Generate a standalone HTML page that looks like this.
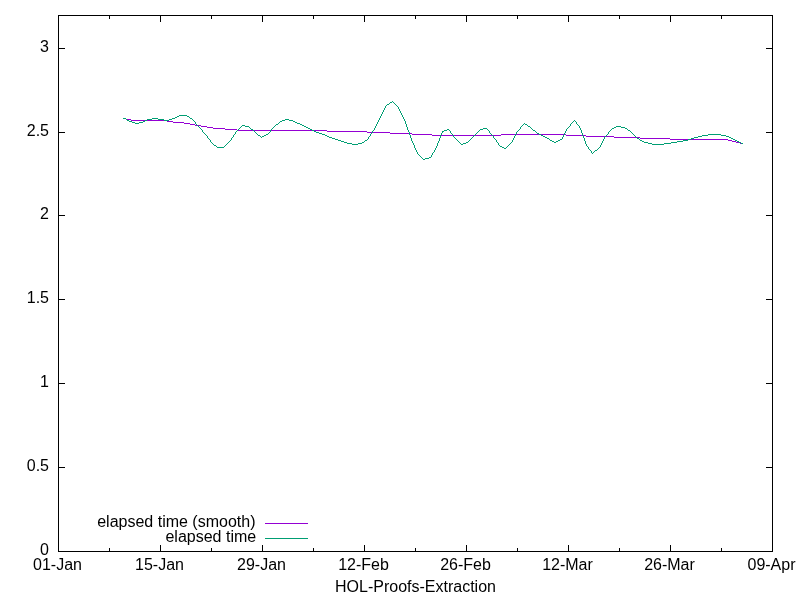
<!DOCTYPE html>
<html><head><meta charset="utf-8"><title>HOL-Proofs-Extraction</title>
<style>
html,body{margin:0;padding:0;background:#fff;}
body{width:800px;height:600px;overflow:hidden;}
svg{display:block;will-change:transform;}
text{font-family:"Liberation Sans",sans-serif;font-size:16px;fill:#000;}
.ax{stroke:#000;stroke-width:1;fill:none;shape-rendering:crispEdges;}
.c{fill:none;stroke-width:1;shape-rendering:crispEdges;}
</style></head><body>
<svg width="800" height="600" viewBox="0 0 800 600">
<rect width="800" height="600" fill="#fff"/>
<path class="ax" d="M58.5 552 V545 M58.5 15 V22 M160.5 552 V545 M160.5 15 V22 M262.5 552 V545 M262.5 15 V22 M364.5 552 V545 M364.5 15 V22 M466.5 552 V545 M466.5 15 V22 M568.5 552 V545 M568.5 15 V22 M670.5 552 V545 M670.5 15 V22 M772.5 552 V545 M772.5 15 V22 M109.5 552 V548 M109.5 15 V19 M211.5 552 V548 M211.5 15 V19 M313.5 552 V548 M313.5 15 V19 M415.5 552 V548 M415.5 15 V19 M517.5 552 V548 M517.5 15 V19 M619.5 552 V548 M619.5 15 V19 M721.5 552 V548 M721.5 15 V19 M58 551.5 H65 M773 551.5 H766 M58 467.5 H65 M773 467.5 H766 M58 383.5 H65 M773 383.5 H766 M58 299.5 H65 M773 299.5 H766 M58 215.5 H65 M773 215.5 H766 M58 132.5 H65 M773 132.5 H766 M58 48.5 H65 M773 48.5 H766"/>
<rect class="ax" x="58.5" y="15.5" width="714" height="536"/>
<text x="57.5" y="570" text-anchor="middle">01-Jan</text>
<text x="159.5" y="570" text-anchor="middle">15-Jan</text>
<text x="261.5" y="570" text-anchor="middle">29-Jan</text>
<text x="363.5" y="570" text-anchor="middle">12-Feb</text>
<text x="465.5" y="570" text-anchor="middle">26-Feb</text>
<text x="567.5" y="570" text-anchor="middle">12-Mar</text>
<text x="669.5" y="570" text-anchor="middle">26-Mar</text>
<text x="771.5" y="570" text-anchor="middle">09-Apr</text>
<text x="49" y="554.5" text-anchor="end">0</text>
<text x="49" y="470.5" text-anchor="end">0.5</text>
<text x="49" y="386.5" text-anchor="end">1</text>
<text x="49" y="302.5" text-anchor="end">1.5</text>
<text x="49" y="218.5" text-anchor="end">2</text>
<text x="49" y="135.5" text-anchor="end">2.5</text>
<text x="49" y="51.5" text-anchor="end">3</text>
<text x="415.5" y="592" text-anchor="middle">HOL-Proofs-Extraction</text>
<text x="255.5" y="527" text-anchor="end">elapsed time (smooth)</text>
<text x="256.2" y="542" text-anchor="end">elapsed time</text>
<path class="c" stroke="#9400d3" d="M265 523.5 H308"/>
<path class="c" stroke="#009e73" d="M265 538.5 H308"/>
<path fill="#9400d3" shape-rendering="crispEdges" d="M123 118h3v1h-3zM126 119h5v1h-5zM131 120h36v1h-36zM167 121h6v1h-6zM173 122h11v1h-11zM184 123h6v1h-6zM190 124h5v1h-5zM195 125h6v1h-6zM201 126h6v1h-6zM207 127h6v1h-6zM213 128h12v1h-12zM225 129h12v1h-12zM237 130h90v1h-90zM327 131h40v1h-40zM367 132h23v1h-23zM390 133h22v1h-22zM412 134h20v1h-20zM501 134h65v1h-65zM432 135h69v1h-69zM566 135h20v1h-20zM586 136h28v1h-28zM614 137h26v1h-26zM640 138h30v1h-30zM670 139h58v1h-58zM728 140h4v1h-4zM732 141h4v1h-4zM736 142h4v1h-4zM740 143h3v1h-3z"/>
<path fill="#009e73" shape-rendering="crispEdges" d="M392 101h1v1h-1zM390 102h2v1h-2zM393 102h1v1h-1zM389 103h1v1h-1zM394 103h1v1h-1zM387 104h2v1h-2zM395 104h1v1h-1zM386 105h1v1h-1zM396 105h1v1h-1zM385 106h1v1h-1zM397 106h1v1h-1zM385 107h1v1h-1zM398 107h1v1h-1zM384 108h1v1h-1zM398 108h1v1h-1zM384 109h1v1h-1zM399 109h1v1h-1zM383 110h1v1h-1zM399 110h1v1h-1zM383 111h1v1h-1zM400 111h1v1h-1zM382 112h1v1h-1zM400 112h1v1h-1zM382 113h1v1h-1zM401 113h1v1h-1zM381 114h1v1h-1zM401 114h1v1h-1zM179 115h8v1h-8zM381 115h1v1h-1zM402 115h1v1h-1zM177 116h2v1h-2zM187 116h2v1h-2zM380 116h1v1h-1zM402 116h1v1h-1zM175 117h2v1h-2zM189 117h1v1h-1zM380 117h1v1h-1zM403 117h1v1h-1zM123 118h3v1h-3zM152 118h6v1h-6zM172 118h3v1h-3zM190 118h2v1h-2zM379 118h1v1h-1zM403 118h1v1h-1zM126 119h1v1h-1zM147 119h5v1h-5zM158 119h6v1h-6zM169 119h3v1h-3zM192 119h1v1h-1zM285 119h4v1h-4zM379 119h1v1h-1zM404 119h1v1h-1zM127 120h2v1h-2zM145 120h2v1h-2zM164 120h5v1h-5zM193 120h1v1h-1zM282 120h3v1h-3zM289 120h4v1h-4zM378 120h1v1h-1zM404 120h1v1h-1zM574 120h1v1h-1zM129 121h3v1h-3zM143 121h2v1h-2zM194 121h1v1h-1zM280 121h2v1h-2zM293 121h2v1h-2zM378 121h1v1h-1zM405 121h1v1h-1zM573 121h1v1h-1zM575 121h1v1h-1zM132 122h3v1h-3zM139 122h4v1h-4zM195 122h1v1h-1zM279 122h1v1h-1zM295 122h2v1h-2zM377 122h1v1h-1zM405 122h1v1h-1zM572 122h1v1h-1zM576 122h1v1h-1zM135 123h4v1h-4zM195 123h1v1h-1zM278 123h1v1h-1zM297 123h3v1h-3zM377 123h1v1h-1zM405 123h1v1h-1zM524 123h1v1h-1zM571 123h1v1h-1zM576 123h1v1h-1zM196 124h1v1h-1zM276 124h2v1h-2zM300 124h2v1h-2zM376 124h1v1h-1zM406 124h1v1h-1zM523 124h1v1h-1zM525 124h2v1h-2zM570 124h1v1h-1zM577 124h1v1h-1zM197 125h1v1h-1zM242 125h3v1h-3zM275 125h1v1h-1zM302 125h2v1h-2zM376 125h1v1h-1zM406 125h1v1h-1zM522 125h1v1h-1zM527 125h1v1h-1zM570 125h1v1h-1zM578 125h1v1h-1zM198 126h1v1h-1zM241 126h1v1h-1zM245 126h4v1h-4zM274 126h1v1h-1zM304 126h2v1h-2zM375 126h1v1h-1zM406 126h1v1h-1zM521 126h1v1h-1zM528 126h2v1h-2zM569 126h1v1h-1zM579 126h1v1h-1zM616 126h5v1h-5zM199 127h1v1h-1zM240 127h1v1h-1zM249 127h1v1h-1zM273 127h1v1h-1zM306 127h2v1h-2zM375 127h1v1h-1zM407 127h1v1h-1zM520 127h1v1h-1zM530 127h1v1h-1zM568 127h1v1h-1zM579 127h1v1h-1zM614 127h2v1h-2zM621 127h4v1h-4zM200 128h1v1h-1zM239 128h1v1h-1zM250 128h1v1h-1zM272 128h1v1h-1zM308 128h2v1h-2zM374 128h1v1h-1zM407 128h1v1h-1zM483 128h4v1h-4zM520 128h1v1h-1zM531 128h1v1h-1zM567 128h1v1h-1zM580 128h1v1h-1zM612 128h2v1h-2zM625 128h2v1h-2zM201 129h1v1h-1zM238 129h1v1h-1zM251 129h2v1h-2zM271 129h1v1h-1zM310 129h2v1h-2zM374 129h1v1h-1zM407 129h1v1h-1zM447 129h2v1h-2zM480 129h3v1h-3zM487 129h1v1h-1zM519 129h1v1h-1zM532 129h1v1h-1zM566 129h1v1h-1zM580 129h1v1h-1zM611 129h1v1h-1zM627 129h1v1h-1zM202 130h1v1h-1zM237 130h1v1h-1zM253 130h1v1h-1zM270 130h1v1h-1zM312 130h2v1h-2zM373 130h1v1h-1zM408 130h1v1h-1zM444 130h3v1h-3zM449 130h1v1h-1zM479 130h1v1h-1zM488 130h1v1h-1zM518 130h1v1h-1zM533 130h2v1h-2zM566 130h1v1h-1zM581 130h1v1h-1zM610 130h1v1h-1zM628 130h2v1h-2zM202 131h1v1h-1zM236 131h1v1h-1zM254 131h1v1h-1zM270 131h1v1h-1zM314 131h2v1h-2zM372 131h1v1h-1zM408 131h1v1h-1zM442 131h2v1h-2zM450 131h1v1h-1zM478 131h1v1h-1zM489 131h1v1h-1zM517 131h1v1h-1zM535 131h1v1h-1zM565 131h1v1h-1zM581 131h1v1h-1zM609 131h1v1h-1zM630 131h1v1h-1zM203 132h1v1h-1zM235 132h1v1h-1zM255 132h1v1h-1zM269 132h1v1h-1zM316 132h3v1h-3zM372 132h1v1h-1zM409 132h1v1h-1zM442 132h1v1h-1zM450 132h1v1h-1zM477 132h1v1h-1zM489 132h1v1h-1zM516 132h1v1h-1zM536 132h1v1h-1zM565 132h1v1h-1zM581 132h1v1h-1zM608 132h1v1h-1zM631 132h1v1h-1zM204 133h1v1h-1zM235 133h1v1h-1zM256 133h1v1h-1zM268 133h1v1h-1zM319 133h3v1h-3zM371 133h1v1h-1zM409 133h1v1h-1zM441 133h1v1h-1zM451 133h1v1h-1zM476 133h1v1h-1zM490 133h1v1h-1zM516 133h1v1h-1zM537 133h2v1h-2zM564 133h1v1h-1zM582 133h1v1h-1zM608 133h1v1h-1zM632 133h1v1h-1zM205 134h1v1h-1zM234 134h1v1h-1zM257 134h1v1h-1zM266 134h2v1h-2zM322 134h3v1h-3zM370 134h1v1h-1zM409 134h1v1h-1zM441 134h1v1h-1zM452 134h1v1h-1zM475 134h1v1h-1zM491 134h1v1h-1zM515 134h1v1h-1zM539 134h2v1h-2zM564 134h1v1h-1zM582 134h1v1h-1zM607 134h1v1h-1zM633 134h1v1h-1zM708 134h13v1h-13zM206 135h1v1h-1zM233 135h1v1h-1zM258 135h2v1h-2zM264 135h2v1h-2zM325 135h2v1h-2zM370 135h1v1h-1zM410 135h1v1h-1zM440 135h1v1h-1zM453 135h1v1h-1zM474 135h1v1h-1zM492 135h1v1h-1zM515 135h1v1h-1zM541 135h2v1h-2zM563 135h1v1h-1zM582 135h1v1h-1zM606 135h1v1h-1zM634 135h1v1h-1zM702 135h6v1h-6zM721 135h5v1h-5zM207 136h1v1h-1zM233 136h1v1h-1zM260 136h1v1h-1zM262 136h2v1h-2zM327 136h2v1h-2zM369 136h1v1h-1zM410 136h1v1h-1zM440 136h1v1h-1zM453 136h1v1h-1zM473 136h1v1h-1zM493 136h1v1h-1zM514 136h1v1h-1zM543 136h2v1h-2zM563 136h1v1h-1zM583 136h1v1h-1zM605 136h1v1h-1zM635 136h1v1h-1zM698 136h4v1h-4zM726 136h3v1h-3zM207 137h1v1h-1zM232 137h1v1h-1zM261 137h1v1h-1zM329 137h3v1h-3zM368 137h1v1h-1zM410 137h1v1h-1zM440 137h1v1h-1zM454 137h1v1h-1zM472 137h1v1h-1zM493 137h1v1h-1zM514 137h1v1h-1zM545 137h2v1h-2zM562 137h1v1h-1zM583 137h1v1h-1zM604 137h1v1h-1zM636 137h1v1h-1zM694 137h4v1h-4zM729 137h2v1h-2zM208 138h1v1h-1zM231 138h1v1h-1zM332 138h3v1h-3zM368 138h1v1h-1zM411 138h1v1h-1zM439 138h1v1h-1zM455 138h1v1h-1zM471 138h1v1h-1zM494 138h1v1h-1zM513 138h1v1h-1zM547 138h2v1h-2zM562 138h1v1h-1zM584 138h1v1h-1zM604 138h1v1h-1zM637 138h2v1h-2zM691 138h3v1h-3zM731 138h2v1h-2zM209 139h1v1h-1zM231 139h1v1h-1zM335 139h3v1h-3zM367 139h1v1h-1zM411 139h1v1h-1zM439 139h1v1h-1zM456 139h1v1h-1zM470 139h1v1h-1zM495 139h1v1h-1zM513 139h1v1h-1zM549 139h1v1h-1zM560 139h2v1h-2zM584 139h1v1h-1zM603 139h1v1h-1zM639 139h1v1h-1zM688 139h3v1h-3zM733 139h2v1h-2zM210 140h1v1h-1zM230 140h1v1h-1zM338 140h3v1h-3zM365 140h2v1h-2zM411 140h1v1h-1zM439 140h1v1h-1zM457 140h1v1h-1zM469 140h1v1h-1zM496 140h1v1h-1zM512 140h1v1h-1zM550 140h2v1h-2zM558 140h2v1h-2zM584 140h1v1h-1zM603 140h1v1h-1zM640 140h2v1h-2zM683 140h5v1h-5zM735 140h2v1h-2zM210 141h1v1h-1zM229 141h1v1h-1zM341 141h3v1h-3zM364 141h1v1h-1zM412 141h1v1h-1zM438 141h1v1h-1zM458 141h1v1h-1zM468 141h1v1h-1zM496 141h1v1h-1zM512 141h1v1h-1zM552 141h2v1h-2zM556 141h2v1h-2zM585 141h1v1h-1zM602 141h1v1h-1zM642 141h2v1h-2zM677 141h6v1h-6zM737 141h2v1h-2zM211 142h1v1h-1zM228 142h1v1h-1zM344 142h3v1h-3zM362 142h2v1h-2zM412 142h1v1h-1zM438 142h1v1h-1zM459 142h1v1h-1zM466 142h2v1h-2zM497 142h1v1h-1zM511 142h1v1h-1zM554 142h2v1h-2zM585 142h1v1h-1zM602 142h1v1h-1zM644 142h4v1h-4zM671 142h6v1h-6zM739 142h2v1h-2zM212 143h1v1h-1zM227 143h1v1h-1zM347 143h5v1h-5zM358 143h4v1h-4zM413 143h1v1h-1zM437 143h1v1h-1zM460 143h1v1h-1zM463 143h3v1h-3zM498 143h1v1h-1zM510 143h1v1h-1zM585 143h1v1h-1zM601 143h1v1h-1zM648 143h4v1h-4zM664 143h7v1h-7zM741 143h2v1h-2zM213 144h1v1h-1zM226 144h1v1h-1zM352 144h6v1h-6zM413 144h1v1h-1zM437 144h1v1h-1zM461 144h2v1h-2zM498 144h1v1h-1zM509 144h1v1h-1zM586 144h1v1h-1zM601 144h1v1h-1zM652 144h12v1h-12zM214 145h2v1h-2zM225 145h1v1h-1zM414 145h1v1h-1zM437 145h1v1h-1zM499 145h1v1h-1zM508 145h1v1h-1zM586 145h1v1h-1zM600 145h1v1h-1zM216 146h1v1h-1zM224 146h1v1h-1zM414 146h1v1h-1zM436 146h1v1h-1zM500 146h2v1h-2zM507 146h1v1h-1zM587 146h1v1h-1zM600 146h1v1h-1zM217 147h7v1h-7zM414 147h1v1h-1zM436 147h1v1h-1zM502 147h2v1h-2zM506 147h1v1h-1zM588 147h1v1h-1zM599 147h1v1h-1zM415 148h1v1h-1zM435 148h1v1h-1zM504 148h2v1h-2zM588 148h1v1h-1zM598 148h1v1h-1zM415 149h1v1h-1zM435 149h1v1h-1zM589 149h1v1h-1zM597 149h1v1h-1zM416 150h1v1h-1zM434 150h1v1h-1zM590 150h1v1h-1zM595 150h2v1h-2zM416 151h1v1h-1zM434 151h1v1h-1zM591 151h1v1h-1zM594 151h1v1h-1zM417 152h1v1h-1zM433 152h1v1h-1zM591 152h1v1h-1zM593 152h1v1h-1zM417 153h1v1h-1zM432 153h1v1h-1zM592 153h1v1h-1zM418 154h1v1h-1zM432 154h1v1h-1zM419 155h1v1h-1zM431 155h1v1h-1zM420 156h1v1h-1zM431 156h1v1h-1zM421 157h1v1h-1zM429 157h2v1h-2zM422 158h1v1h-1zM425 158h4v1h-4zM423 159h2v1h-2z"/>
</svg></body></html>
